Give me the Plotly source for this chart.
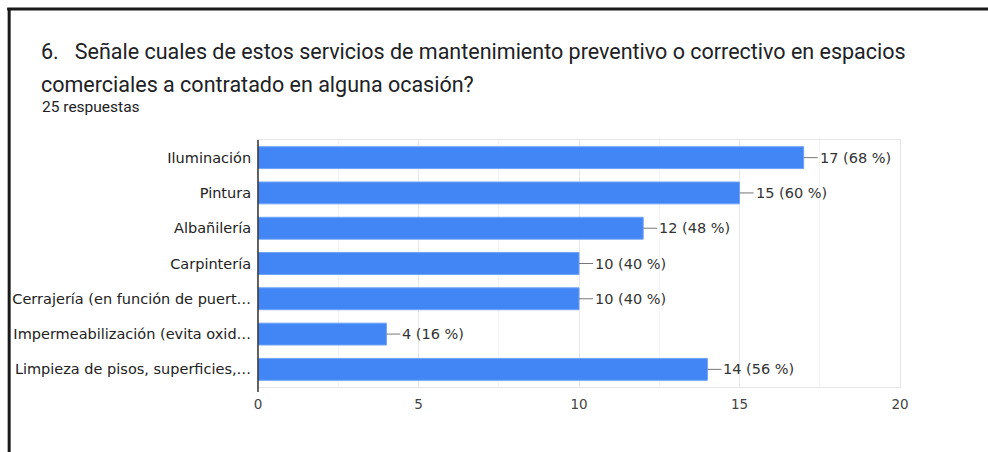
import plotly.graph_objects as go

categories = [
    "Iluminación",
    "Pintura",
    "Albañilería",
    "Carpintería",
    "Cerrajería (en función de puert…",
    "Impermeabilización (evita oxid…",
    "Limpieza de pisos, superficies,…",
]
counts = [17, 15, 12, 10, 10, 4, 14]
total_responses = 25
x_ticks = [0, 5, 10, 15, 20]

title_line1 = "6.\u00a0\u00a0\u00a0Señale cuales de estos servicios de mantenimiento preventivo o correctivo en espacios"
title_line2 = "comerciales a contratado en alguna ocasión?"
subtitle = f"{total_responses} respuestas"

W, H = 988, 452
ML, MR, MT, MB = 255, 88, 140, 65
PW, PH = W - ML - MR, H - MT - MB


def px_x(p):
    return (p - ML) / PW


def px_y(p):
    return (H - MB - p) / PH


label_font = "DejaVu Sans, Liberation Sans, Arial, sans-serif"

fig = go.Figure()
fig.add_trace(go.Bar(
    x=counts, y=categories, orientation="h",
    marker=dict(color="#4285F4", line=dict(color="#6fa3f7", width=1)),
    hoverinfo="skip",
))

annotations = []
for c, v in zip(categories, counts):
    annotations.append(dict(
        x=v, y=c, xref="x", yref="y",
        text=f"{v} ({round(v / total_responses * 100)} %)",
        showarrow=True, arrowhead=0, arrowwidth=1, arrowcolor="#777777",
        ax=14, ay=0, axref="pixel", ayref="pixel",
        xanchor="left", yanchor="middle", standoff=0, startstandoff=0,
        font=dict(family=label_font, size=14.5, color="#333333"),
    ))

font_title = dict(family="Roboto, sans-serif", size=21.5, color="#202124")
annotations += [
    dict(xref="paper", yref="paper", x=px_x(35), y=px_y(52), text=title_line1,
         showarrow=False, xanchor="left", yanchor="middle", font=font_title),
    dict(xref="paper", yref="paper", x=px_x(35), y=px_y(84), text=title_line2,
         showarrow=False, xanchor="left", yanchor="middle", font=font_title),
    dict(xref="paper", yref="paper", x=px_x(36), y=px_y(107), text=subtitle,
         showarrow=False, xanchor="left", yanchor="middle",
         font=dict(family="Roboto, sans-serif", size=15.5, color="#202124")),
]

shapes = [
    dict(type="line", xref="paper", yref="paper", x0=px_x(3), x1=px_x(W + 2),
         y0=px_y(9), y1=px_y(9), line=dict(color="#1a1a1a", width=3), layer="above"),
    dict(type="line", xref="paper", yref="paper", x0=px_x(5), x1=px_x(5),
         y0=px_y(8), y1=px_y(H + 2), line=dict(color="#1a1a1a", width=3), layer="above"),
    dict(type="line", xref="paper", yref="paper", x0=0, x1=0,
         y0=px_y(392), y1=1, line=dict(color="#333333", width=1.5), layer="above"),
]

fig.update_layout(
    width=W, height=H,
    margin=dict(l=ML, r=MR, t=MT, b=MB),
    paper_bgcolor="white", plot_bgcolor="white",
    showlegend=False,
    bargap=0.38,
    annotations=annotations,
    shapes=shapes,
    xaxis=dict(
        range=[0, 20], tickvals=x_ticks, showgrid=True, gridcolor="#e8e8e8", gridwidth=1,
        minor=dict(dtick=2.5, showgrid=True, gridcolor="#f4f4f4"),
        showline=True, linecolor="#e6e6e6", mirror=True, zeroline=False,
        ticks="", ticklabelstandoff=5,
        tickfont=dict(family=label_font, size=13.5, color="#444444"),
        fixedrange=True,
    ),
    yaxis=dict(
        categoryorder="array", categoryarray=categories, autorange="reversed",
        showgrid=False, showline=True, linecolor="#e6e6e6", mirror=True,
        ticks="", ticklabelstandoff=3,
        tickfont=dict(family=label_font, size=14.5, color="#222222"),
        fixedrange=True,
    ),
)

fig.write_html("out.html", config={"displayModeBar": False})
